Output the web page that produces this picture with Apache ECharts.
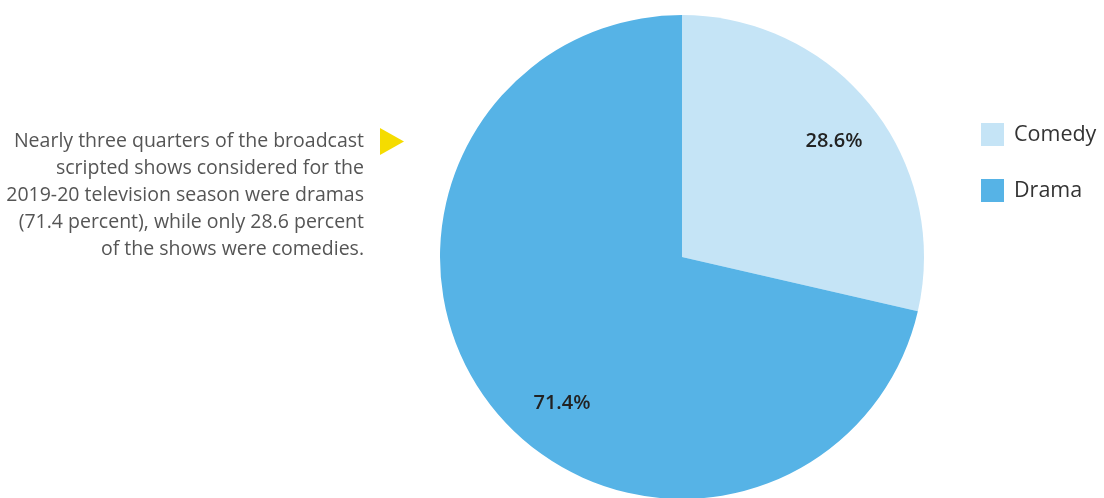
<!DOCTYPE html>
<html><head><meta charset="utf-8">
<script src="https://cdn.jsdelivr.net/npm/echarts@6/dist/echarts.min.js"></script>
<style>html,body{margin:0;padding:0;background:#fff}#c{width:1104px;height:498px}</style>
</head><body><div id="c"></div>
<script>
var categories = ['Comedy', 'Drama'];
var values = [28.6, 71.4];
var colors = ['#c5e4f6', '#56b3e6'];
var labelOffsets = [[55, -38], [-23, 69]];
var noteLines = [
  'Nearly three quarters of the broadcast',
  'scripted shows considered for the',
  '2019-20 television season were dramas',
  '(71.4 percent), while only 28.6 percent',
  'of the shows were comedies.'
];
var chart = echarts.init(document.getElementById('c'));
chart.setOption({
  animation: false,
  legend: {
    orient: 'vertical', left: 981, top: 123, padding: 0,
    itemWidth: 23, itemHeight: 23, itemGap: 33, icon: 'rect',
    textStyle: { fontFamily: 'Open Sans', fontSize: 21.5, color: '#333', padding: [0,0,0,5] },
    data: categories
  },
  graphic: [
    { type: 'text', x: 364, y: 128,
      style: { text: noteLines.join('\n'), x: 0, y: 0, fontFamily: 'Open Sans', fontSize: 19.5, lineHeight: 27, fill: '#555', align: 'right', verticalAlign: 'top' } },
    { type: 'polygon', shape: { points: [[380,128],[404,141.5],[380,155]] }, style: { fill: '#f5dc00' } }
  ],
  series: [{
    type: 'pie', center: [682, 257], radius: [0, 242], startAngle: 90, clockwise: true,
    label: { show: true, position: 'inside', formatter: '{c}%', fontFamily: 'Open Sans', fontSize: 20, fontWeight: 600, color: '#222' },
    labelLine: { show: false },
    emphasis: { disabled: true },
    itemStyle: { borderWidth: 0 },
    data: categories.map(function (n, i) {
      return { name: n, value: values[i], itemStyle: { color: colors[i] }, label: { offset: labelOffsets[i] } };
    })
  }]
});
</script></body></html>
